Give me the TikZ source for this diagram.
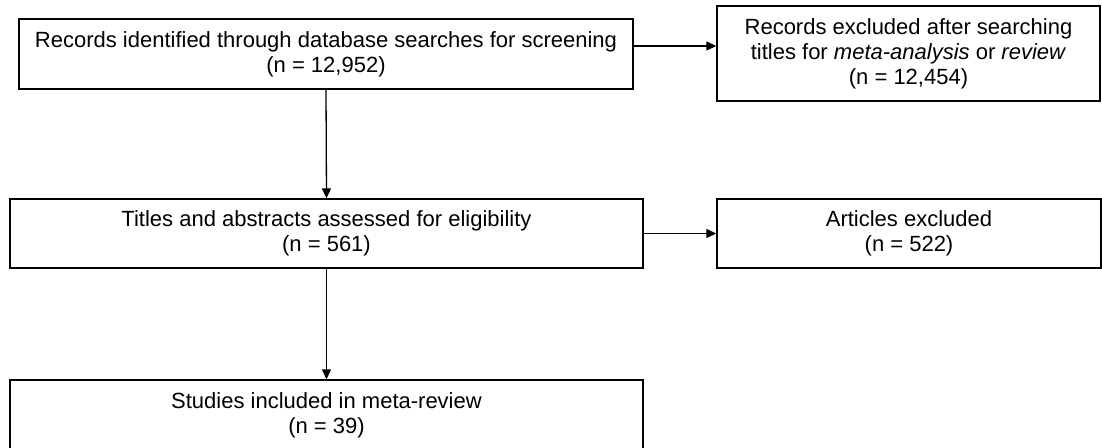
\documentclass[tikz,border=0pt]{standalone}
\usepackage{fontspec}
\setmainfont{Liberation Sans}
\usetikzlibrary{arrows.meta}

\tikzset{
  stage/.style={draw, line width=1.4pt, align=center, inner sep=0pt,
    font=\fontsize{22}{25}\selectfont},
  flow/.style={-{Triangle[length=10pt,width=9pt]}, line width=1.3pt}
}

\begin{document}
\begin{tikzpicture}[x=1pt, y=-1pt]

  \useasboundingbox (0,0) rectangle (1102,447);

  % Identification
  \draw(326,54) node[stage, minimum width=614pt, minimum height=70pt] (records)
    {Records identified through database searches for screening\\(n = 12,952)};
  \draw(908.5,53.5) node[stage, minimum width=383pt, minimum height=95pt] (excluded)
    {Records excluded after searching\\titles for \textit{meta-analysis} or \textit{review}\\(n = 12,454)};

  % Screening
  \draw(326.5,233.5) node[stage, minimum width=633pt, minimum height=69pt] (screened)
    {Titles and abstracts assessed for eligibility\\(n = 561)};
  \draw(909,233.5) node[stage, minimum width=384pt, minimum height=69pt] (articles)
    {Articles excluded\\(n = 522)};

  % Included
  \draw(326.5,415) node[stage, minimum width=633pt, minimum height=70pt] (included)
    {Studies included in meta-review\\(n = 39)};

  % Arrows
  \coordinate (out) at (633,46);
  \draw[flow] (out) -- (out -| excluded.west);
  \draw[flow] (records.south) -- (screened.north);
  \draw[flow] (screened.east) -- (articles.west);
  \draw[flow] (screened.south) -- (included.north);

\end{tikzpicture}
\end{document}
